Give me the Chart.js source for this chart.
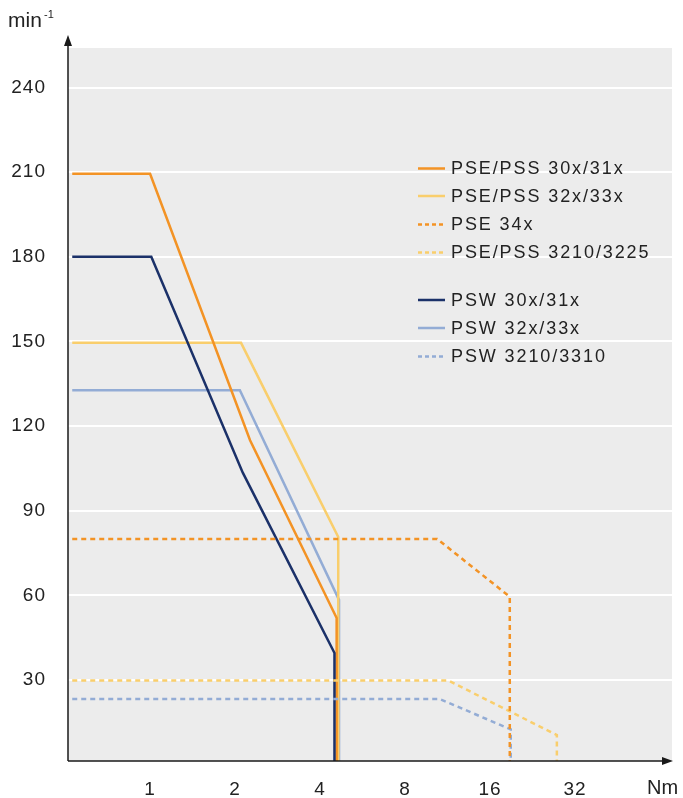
<!DOCTYPE html>
<html><head><meta charset="utf-8">
<script src="https://cdn.jsdelivr.net/npm/chart.js@4/dist/chart.umd.min.js"></script>
<style>html,body{margin:0;padding:0;background:#fff;}#wrap{width:683px;height:798px;position:relative;}</style>
</head><body><div id="wrap"><canvas id="c" width="683" height="798"></canvas></div>
<script>
// ---- data ----
const xTickValues = [1, 2, 4, 8, 16, 32];
const yTickValues = [30, 60, 90, 120, 150, 180, 210, 240];
const seriesNames = ['PSE/PSS 30x/31x', 'PSE/PSS 32x/33x', 'PSE 34x', 'PSE/PSS 3210/3225',
                     'PSW 30x/31x', 'PSW 32x/33x', 'PSW 3210/3310'];
const pse3031Torque = [0.53, 1.0, 2.26, 4.58, 4.58];
const pse3031Speed  = [209.4, 209.4, 115, 52, 0];
const pse3233Torque = [0.53, 2.1, 4.64, 4.64];
const pse3233Speed  = [149.5, 149.5, 80.7, 0];
const pse34Torque   = [0.53, 10.4, 18.8, 18.8];
const pse34Speed    = [80, 80, 59.5, 0];
const pse3210Torque = [0.53, 11.4, 27.6, 27.6];
const pse3210Speed  = [29.8, 29.8, 10.5, 0];
const psw3031Torque = [0.53, 1.01, 2.13, 4.5, 4.5];
const psw3031Speed  = [180, 180, 103.5, 39.6, 0];
const psw3233Torque = [0.53, 2.08, 4.67, 4.67];
const psw3233Speed  = [132.7, 132.7, 58.4, 0];
const psw3210Torque = [0.53, 10.6, 18.95, 18.95];
const psw3210Speed  = [23.3, 23.3, 12.5, 0];

const ORANGE = '#F39325', YELLOW = '#F9CE6C', NAVY = '#1B3169', LBLUE = '#93ACD5';
const pts = (xs, ys) => xs.map((x, i) => ({x: x, y: ys[i]}));
const DASH = [5, 4];

const datasets = [
  {label: seriesNames[2], data: pts(pse34Torque, pse34Speed), borderColor: ORANGE, borderDash: DASH},
  {label: seriesNames[3], data: pts(pse3210Torque, pse3210Speed), borderColor: YELLOW, borderDash: DASH},
  {label: seriesNames[6], data: pts(psw3210Torque, psw3210Speed), borderColor: LBLUE, borderDash: DASH},
  {label: seriesNames[4], data: pts(psw3031Torque, psw3031Speed), borderColor: NAVY},
  {label: seriesNames[0], data: pts(pse3031Torque, pse3031Speed), borderColor: ORANGE},
  {label: seriesNames[1], data: pts(pse3233Torque, pse3233Speed), borderColor: YELLOW},
  {label: seriesNames[5], data: pts(psw3233Torque, psw3233Speed), borderColor: LBLUE}
].map(d => Object.assign({showLine: true, pointRadius: 0, borderWidth: 2.5, tension: 0, fill: false}, d));

const legendOrder = [
  {name: seriesNames[0], color: ORANGE, dash: []},
  {name: seriesNames[1], color: YELLOW, dash: []},
  {name: seriesNames[2], color: ORANGE, dash: [4, 3]},
  {name: seriesNames[3], color: YELLOW, dash: [4, 3]},
  null,
  {name: seriesNames[4], color: NAVY, dash: []},
  {name: seriesNames[5], color: LBLUE, dash: []},
  {name: seriesNames[6], color: LBLUE, dash: [4, 3]}
];

const FONT = '"Liberation Sans", Arial, sans-serif';
const TEXT = '#222';

const decor = {
  id: 'decor',
  beforeDraw(chart) {
    const {ctx, chartArea: a} = chart;
    ctx.save();
    ctx.fillStyle = '#ececec';
    ctx.fillRect(a.left, a.top, a.right - a.left, a.bottom - a.top);
    ctx.restore();
    try { ctx.letterSpacing = '1px'; } catch (e) {}
  },
  afterDraw(chart) {
    const {ctx, chartArea: a} = chart;
    ctx.save();
    // axes
    ctx.strokeStyle = '#1a1a1a'; ctx.fillStyle = '#1a1a1a'; ctx.lineWidth = 1.5;
    ctx.beginPath();
    ctx.moveTo(a.left, a.bottom); ctx.lineTo(a.left, 40);
    ctx.moveTo(a.left, a.bottom); ctx.lineTo(a.right - 6, a.bottom);
    ctx.stroke();
    ctx.beginPath();
    ctx.moveTo(a.left, 35); ctx.lineTo(a.left - 4, 46); ctx.lineTo(a.left + 4, 46); ctx.closePath(); ctx.fill();
    ctx.beginPath();
    ctx.moveTo(a.right + 1, a.bottom); ctx.lineTo(a.right - 10, a.bottom - 4); ctx.lineTo(a.right - 10, a.bottom + 4); ctx.closePath(); ctx.fill();
    // units
    try { ctx.letterSpacing = '0px'; } catch (e) {}
    ctx.fillStyle = TEXT; ctx.textBaseline = 'alphabetic'; ctx.textAlign = 'left';
    ctx.font = '21px ' + FONT;
    ctx.fillText('min', 8, 27);
    ctx.font = '11px ' + FONT;
    ctx.fillText('-1', 44, 18);
    ctx.font = '20px ' + FONT;
    ctx.fillText('Nm', 647, 794);
    // legend
    const ys = [168.5, 196, 224.5, 252.5, 0, 300, 328, 356.5];
    ctx.font = '18px ' + FONT;
    try { ctx.letterSpacing = '1.9px'; } catch (e) {}
    ctx.textBaseline = 'middle';
    legendOrder.forEach((it, i) => {
      if (!it) return;
      const y = ys[i];
      ctx.strokeStyle = it.color; ctx.lineWidth = 2.5; ctx.setLineDash(it.dash);
      ctx.beginPath(); ctx.moveTo(418, y); ctx.lineTo(445, y); ctx.stroke();
      ctx.setLineDash([]);
      ctx.fillStyle = TEXT;
      ctx.fillText(it.name, 451, y + 1);
    });
    ctx.restore();
  }
};

new Chart(document.getElementById('c'), {
  type: 'scatter',
  data: {datasets: datasets},
  plugins: [decor],
  options: {
    responsive: false, animation: false, devicePixelRatio: 1,
    layout: {padding: {top: 48, right: 11, left: 0, bottom: 0}},
    plugins: {legend: {display: false}, tooltip: {enabled: false}},
    scales: {
      x: {
        type: 'logarithmic', min: 0.512, max: 70.6,
        afterBuildTicks: s => { s.ticks = xTickValues.map(v => ({value: v})); },
        afterFit: s => { s.height = 37; },
        grid: {display: false, drawTicks: false},
        border: {display: false},
        ticks: {autoSkip: false, maxRotation: 0, padding: 17, color: TEXT,
                font: {family: FONT, size: 19}, callback: v => String(v)}
      },
      y: {
        type: 'linear', min: 1.3, max: 254,
        afterBuildTicks: s => { s.ticks = yTickValues.map(v => ({value: v})); },
        afterFit: s => { s.width = 68; },
        grid: {color: '#ffffff', lineWidth: 2, drawTicks: false},
        border: {display: false},
        ticks: {padding: 22, color: TEXT, font: {family: FONT, size: 19}, callback: v => String(v)}
      }
    }
  }
});
</script></body></html>
